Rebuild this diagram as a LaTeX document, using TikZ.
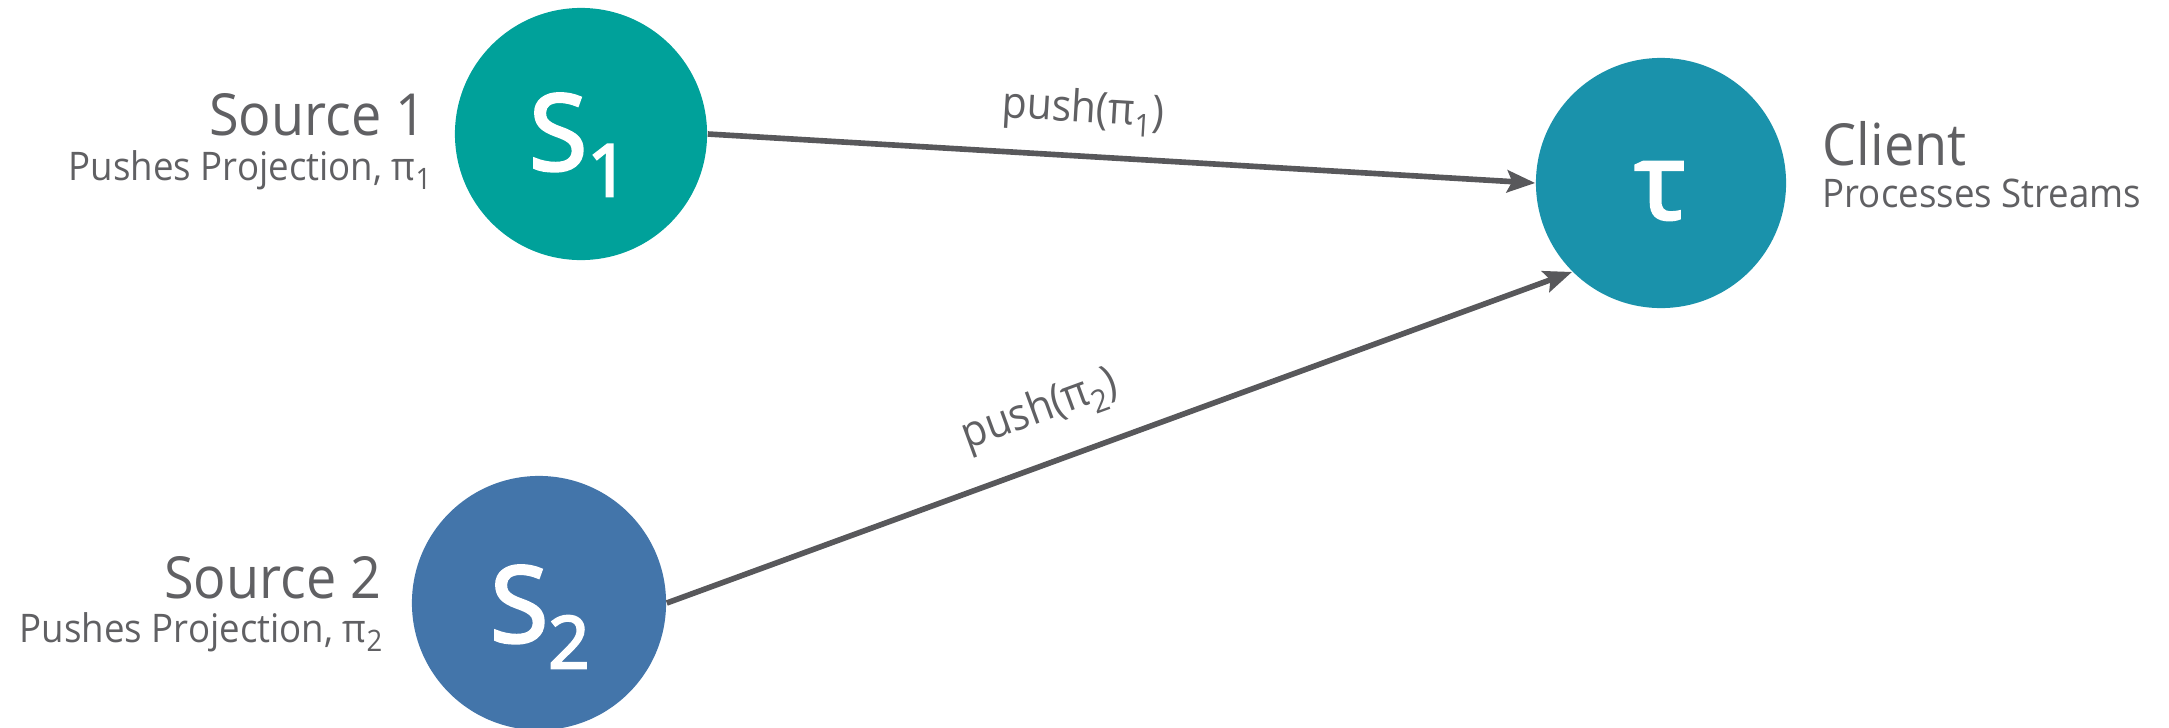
\documentclass[tikz,border=0pt]{standalone}
\usepackage{fontspec}
\setmainfont{Open Sans}
\newfontfamily\keskeny{Open Sans}[FakeStretch=0.93]
\newfontfamily\feher{Open Sans}[FakeBold=3]
\usetikzlibrary{arrows.meta,positioning,calc}
\definecolor{szurke}{HTML}{58585B}
\definecolor{szoveg}{HTML}{606063}
\definecolor{zold}{HTML}{00A19A}
\definecolor{kek}{HTML}{4375AA}
\definecolor{turkiz}{HTML}{1A92AB}
\tikzset{
  csucs/.style={circle,inner sep=0pt,minimum size=2.52cm},
  betu/.style={text=white,font=\feher\fontsize{30}{30}\selectfont,inner sep=0pt},
  cim/.style={text=szoveg,font=\keskeny\fontsize{16.5}{16.5}\selectfont,inner sep=0pt},
  alcim/.style={text=szoveg,font=\keskeny\fontsize{11.2}{11.2}\selectfont,inner sep=0pt},
  nyilvonal/.style={draw=szurke,line width=1.6pt,-{Stealth[length=0.28cm,width=0.22cm,inset=0.05cm]}},
  felirat/.style={text=szoveg,font=\keskeny\fontsize{12.5}{12.5}\selectfont,sloped,above=0.2cm,inner sep=0pt},
}
% also index: meret, szoveg
\newcommand{\als}[2]{\raisebox{-0.25em}{\fontsize{#1}{#1}\selectfont #2}}

\begin{document}
\begin{tikzpicture}[x=0.01cm,y=-0.01cm]
  \useasboundingbox (0,0) rectangle (2169,727);
  % forrasok es kliens
  \node[csucs,fill=zold] (S1) at (581,134) {};
  \node[csucs,fill=kek,minimum size=2.54cm] (S2) at (539,603) {};
  \node[csucs,fill=turkiz,minimum size=2.5cm] (tau) at (1661,183) {};
  \node[betu] (S1b) at (579,145) {S\als{20.7}{1}};
  \node[betu] (S2b) at (540,617) {S\als{20.7}{2}};
  \node[betu] (taub) at (1660,191) {τ};
  % feliratok
  \node[cim,anchor=base east] (n1) at (427,135) {Source 1};
  \node[alcim,anchor=base east] (d1) at (432,180) {Pushes Projection, π\als{8.4}{1}};
  \node[cim,anchor=base east] (n2) at (382,598) {Source 2};
  \node[alcim,anchor=base east] (d2) at (383,642) {Pushes Projection, π\als{8.4}{2}};
  \node[cim,anchor=base west] (nk) at (1822,165) {Client};
  \node[alcim,anchor=base west] (dk) at (1822,207) {Processes Streams};
  % nyilak
  \draw[nyilvonal] (S1.east) -- node[felirat,pos=.45] (p1) {push(π\als{9}{1})} (tau.west);
  \draw[nyilvonal] (S2.east) -- node[felirat,pos=.432,above=0.27cm] (p2) {push(π\als{9}{2})} (tau.225);
\end{tikzpicture}
\end{document}
